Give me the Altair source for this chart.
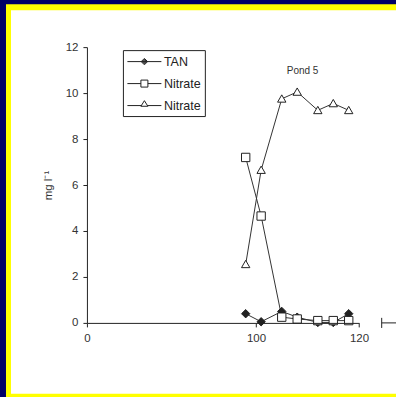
import altair as alt
import pandas as pd

# ---- data ----
days = [98, 101, 105, 108, 112, 115, 118]
tan = [0.4, 0.05, 0.5, 0.25, 0.02, 0.02, 0.4]
nitrate_sq = [7.2, 4.65, 0.25, 0.17, 0.1, 0.1, 0.1]
nitrate_tri = [2.55, 6.65, 9.75, 10.05, 9.25, 9.55, 9.25]
series_names = ["TAN", "Nitrate", "Nitrate "]   # third label repeats "Nitrate" as in the original
x_ticks = [0, 100, 120]
y_ticks = [0, 2, 4, 6, 8, 10, 12]
# next panel's axis stub visible at the right edge (data units)
stub_x = [124.4]
stub_x2 = [130]
stub_y = [-0.22]
stub_y2 = [0.22]

rows = []
for name, vals in zip(series_names, [tan, nitrate_sq, nitrate_tri]):
    for d, v in zip(days, vals):
        rows.append({"series": name, "day": d, "value": v})
df = pd.DataFrame(rows)

INK = "#222222"
FONT = "Liberation Sans"

marker_paths = [
    "M0,-1L1,0L0,1L-1,0Z",
    "M-1,-1H1V1H-1Z",
    "M0,-0.95L1,0.8L-1,0.8Z",
]
# legend glyphs: line - marker - line (diamond drawn as nested outlines so it reads solid)
legend_paths = [
    "M-1,0H3.857"
    "M1.43,-0.46L1.89,0L1.43,0.46L0.97,0Z"
    "M1.43,-0.33L1.76,0L1.43,0.33L1.1,0Z"
    "M1.43,-0.2L1.63,0L1.43,0.2L1.23,0Z"
    "M1.43,-0.08L1.51,0L1.43,0.08L1.35,0Z",
    "M-1,0H0.93M1.93,0H3.857M0.93,-0.5H1.93V0.5H0.93Z",
    "M-1,0H0.99M1.87,0H3.857M1.43,-0.7L1.93,0.1L0.93,0.1Z",
]
fills = [INK, "white", "white"]

xscale = alt.Scale(domain=[0, 84, 120], range=[0, 86.7, 272.3], nice=False, zero=False)
yscale = alt.Scale(domain=[0, 12], nice=False)

X = alt.X("day:Q", scale=xscale,
          axis=alt.Axis(values=x_ticks, format="d", title=None, grid=False, zindex=1,
                        labelFontSize=11.5, labelColor="#333333", labelPadding=6,
                        tickSize=4, tickColor=INK, domainColor=INK, labelFlush=False))
Y = alt.Y("value:Q", scale=yscale,
          axis=alt.Axis(values=y_ticks, title="mg l⁻¹", grid=False, zindex=1,
                        labelFontSize=11.5, labelColor="#333333", labelPadding=5,
                        tickSize=4, tickColor=INK, domainColor=INK,
                        titleFontSize=11.5, titleFontWeight="normal", titleColor="#333333",
                        titlePadding=12))

frame = alt.Chart(alt.Data(values=[{"k": 0}]))
yellow = frame.mark_rect(color="#FFFF00").encode(
    x=alt.value(-81), x2=alt.value(320), y=alt.value(-43), y2=alt.value(360))
white = frame.mark_rect(color="white").encode(
    x=alt.value(-76), x2=alt.value(320), y=alt.value(-37), y2=alt.value(347))

base = alt.Chart(df)
lines = base.mark_line(color="#333333", strokeWidth=1).encode(
    x=X, y=Y, detail="series:N", order="day:Q")

points = base.mark_point(filled=True, stroke=INK, strokeWidth=1, size=70, opacity=1).encode(
    x="day:Q", y="value:Q",
    shape=alt.Shape("series:N", scale=alt.Scale(domain=series_names, range=marker_paths), legend=None),
    fill=alt.Fill("series:N", scale=alt.Scale(domain=series_names, range=fills), legend=None),
)

leg = alt.Legend(title=None, orient="none", legendX=36, legendY=3,
                 symbolSize=196, symbolStrokeColor=INK, symbolFillColor="white",
                 symbolStrokeWidth=1, symbolOpacity=1,
                 labelFontSize=12.5, labelColor="#222222", labelOffset=22,
                 strokeColor=INK, fillColor="white", padding=4, rowPadding=8)
legend_layer = base.transform_filter("false").mark_point(
    filled=False, color=INK, strokeWidth=1, opacity=1).encode(
    x="day:Q", y="value:Q",
    shape=alt.Shape("series:N", scale=alt.Scale(domain=series_names, range=legend_paths), legend=leg),
)

stub_df = pd.DataFrame({"x": stub_x, "x2": stub_x2, "y": stub_y, "y2": stub_y2, "y0": [0]})
stub_line = alt.Chart(stub_df).mark_rule(color=INK, strokeWidth=1, clip=False).encode(
    x="x:Q", x2="x2:Q", y="y0:Q")
stub_tick = alt.Chart(stub_df).mark_rule(color=INK, strokeWidth=1, clip=False).encode(
    x="x:Q", y="y:Q", y2="y2:Q")

chart = alt.layer(
    yellow, white, lines, points, legend_layer, stub_line, stub_tick
).resolve_scale(shape="independent", fill="independent").properties(
    width=272.3, height=276,
    padding={"left": 87, "top": 47, "right": 37, "bottom": 74},
    autosize="none",
    background="#000066",
    title=alt.TitleParams("Pond 5", anchor="start", orient="top", offset=0,
                          baseline="alphabetic", dx=281, dy=80,
                          fontSize=10, fontWeight="normal", color="#333333", font=FONT),
).configure(font=FONT).configure_view(stroke=None)

chart.save("out.html", embed_options={"renderer": "svg", "actions": False})
